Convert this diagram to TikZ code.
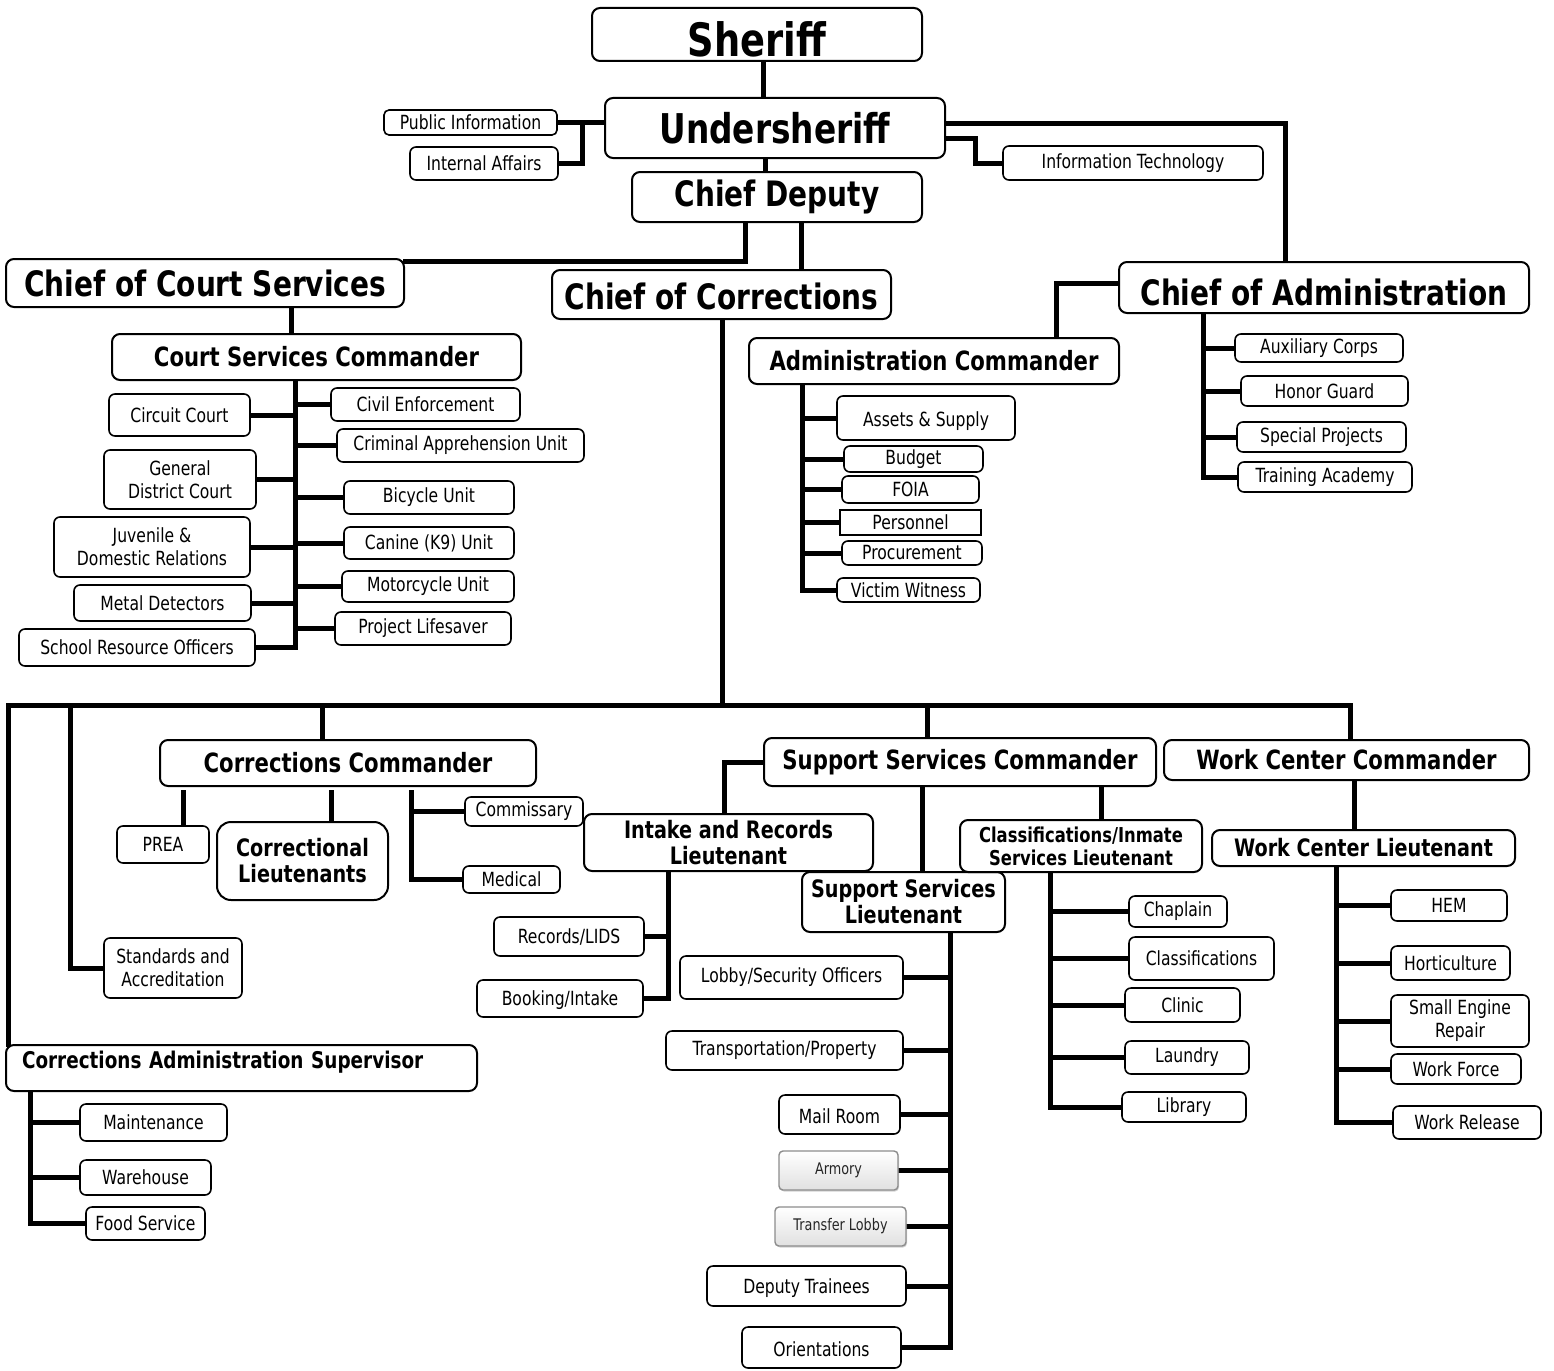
\documentclass[tikz,border=0pt]{standalone}
\usepackage{fontspec}
\setmainfont{DejaVu Sans}[FakeStretch=0.8]
\usetikzlibrary{shadows,backgrounds,calc}
\newcommand\bx[7]{\node[#6, minimum width={#4pt-#2pt}, minimum height={#5pt-#3pt}] (#1) at ({(#2+#4)/2},{(#3+#5)/2}) {#7};}
\tikzset{
 box/.style={draw, line width=1.6pt, rounded corners=6pt, fill=white, inner sep=1pt, align=center, font=\fontsize{19.5}{23}\selectfont},
 big/.style={box, line width=2pt, rounded corners=8pt, font=\bfseries\fontsize{35}{40}\selectfont},
 cmd/.style={box, line width=2pt, rounded corners=8pt, font=\bfseries\fontsize{26.5}{30}\selectfont},
 lt/.style={box, line width=2pt, rounded corners=8pt, font=\bfseries\fontsize{24}{26}\selectfont},
 btn/.style={box, draw=black!45, line width=1.4pt, rounded corners=4pt, top color=white, bottom color=black!12, drop shadow={opacity=0.35, shadow xshift=1pt, shadow yshift=-1.5pt}, font=\fontsize{16}{18}\selectfont, text=black!85},
 conn/.style={line width=5pt, line cap=rect},
}
\begin{document}
\begin{tikzpicture}[x=1pt,y=-1pt]
\useasboundingbox (0,0) rectangle (1554,1370);
% top
\bx{sher}{592}{8}{922}{61}{big, font=\bfseries\fontsize{46}{50}\selectfont, text height=44pt}{Sheriff}
\bx{under}{605}{98}{945}{158}{big, font=\bfseries\fontsize{41}{46}\selectfont}{Undersheriff}
\bx{pi}{384}{110}{557}{135}{box, rounded corners=5pt}{Public Information}
\bx{ia}{410}{147}{558}{180}{box}{Internal Affairs}
\bx{it}{1003}{146}{1263}{180}{box}{Information Technology}
\bx{cd}{632}{172}{922}{222}{big}{Chief Deputy}
\bx{ccs}{6}{259}{404}{307}{big}{Chief of Court Services}
\bx{coc}{552}{270}{891}{319}{big, text height=31pt}{Chief of Corrections}
\bx{coa}{1119}{262}{1529}{313}{big, text height=37pt}{Chief of Administration}
% court
\bx{csc}{112}{334}{521}{380}{cmd}{Court Services Commander}
\bx{circ}{109}{394}{250}{436}{box}{Circuit Court}
\bx{gdc}{104}{450}{256}{509}{box}{General\\District Court}
\bx{jdr}{54}{517}{250}{577}{box}{Juvenile \&\\Domestic Relations}
\bx{md}{74}{585}{251}{621}{box}{Metal Detectors}
\bx{sro}{19}{629}{255}{666}{box}{School Resource Officers}
\bx{civ}{331}{388}{520}{421}{box}{Civil Enforcement}
\bx{cau}{337}{429}{584}{462}{box}{Criminal Apprehension Unit}
\bx{bic}{344}{481}{514}{514}{box}{Bicycle Unit}
\bx{k9}{344}{527}{514}{559}{box}{Canine (K9) Unit}
\bx{moto}{342}{571}{514}{602}{box}{Motorcycle Unit}
\bx{pl}{335}{612}{511}{645}{box}{Project Lifesaver}
% administration
\bx{ac}{749}{338}{1119}{384}{cmd}{Administration Commander}
\bx{as}{837}{396}{1015}{440}{box, text height=22pt}{Assets \& Supply}
\bx{bud}{844}{446}{983}{472}{box}{Budget}
\bx{foia}{842}{476}{979}{503}{box}{FOIA}
\bx{pers}{840}{510}{981}{535}{box, rounded corners=0pt}{Personnel}
\bx{proc}{842}{541}{982}{565}{box}{Procurement}
\bx{vw}{837}{578}{980}{602}{box}{Victim Witness}
\bx{aux}{1235}{334}{1403}{362}{box}{Auxiliary Corps}
\bx{hg}{1241}{376}{1408}{406}{box}{Honor Guard}
\bx{spj}{1237}{422}{1406}{452}{box}{Special Projects}
\bx{ta}{1238}{462}{1412}{492}{box}{Training Academy}
% corrections
\bx{cc}{160}{740}{536}{786}{cmd}{Corrections Commander}
\bx{prea}{117}{826}{209}{863}{box}{PREA}
\bx{cl}{217}{822}{388}{900}{lt, rounded corners=14pt}{Correctional\\Lieutenants}
\bx{comm}{465}{797}{583}{826}{box}{Commissary}
\bx{med}{463}{866}{560}{893}{box}{Medical}
\bx{std}{104}{938}{242}{998}{box}{Standards and\\Accreditation}
\bx{casup}{6}{1045}{477}{1091}{cmd, font=\bfseries\fontsize{23}{26}\selectfont, align=left, inner xsep=16pt, text width=439pt, text depth=17pt}{Corrections Administration Supervisor}
\bx{mnt}{80}{1104}{227}{1141}{box}{Maintenance}
\bx{wh}{80}{1160}{211}{1195}{box}{Warehouse}
\bx{fs}{86}{1207}{205}{1240}{box}{Food Service}
\bx{ssc}{764}{738}{1156}{786}{cmd}{Support Services Commander}
\bx{irl}{584}{814}{873}{871}{lt}{Intake and Records\\Lieutenant}
\bx{rec}{494}{917}{644}{956}{box}{Records/LIDS}
\bx{bi}{477}{980}{643}{1017}{box, text height=19pt}{Booking/Intake}
\bx{ssl}{802}{872}{1005}{932}{lt}{Support Services\\Lieutenant}
\bx{lob}{680}{956}{903}{999}{box}{Lobby/Security Officers}
\bx{tp}{666}{1031}{903}{1070}{box}{Transportation/Property}
\bx{mail}{779}{1095}{900}{1134}{box, text height=19pt}{Mail Room}
\bx{arm}{779}{1151}{898}{1190}{btn}{Armory}
\bx{tl}{775}{1207}{906}{1246}{btn}{Transfer Lobby}
\bx{dt}{707}{1266}{906}{1306}{box, text height=19pt}{Deputy Trainees}
\bx{ori}{742}{1327}{901}{1368}{box, text height=19pt}{Orientations}
\bx{cis}{960}{820}{1202}{872}{lt, font=\bfseries\fontsize{20.5}{23}\selectfont}{Classifications/Inmate\\Services Lieutenant}
\bx{chap}{1129}{896}{1227}{927}{box}{Chaplain}
\bx{cls}{1129}{937}{1274}{980}{box}{Classifications}
\bx{clin}{1125}{988}{1240}{1022}{box}{Clinic}
\bx{laun}{1125}{1041}{1249}{1074}{box}{Laundry}
\bx{lib}{1122}{1092}{1246}{1122}{box}{Library}
\bx{wcc}{1164}{740}{1529}{780}{cmd}{Work Center Commander}
\bx{wcl}{1212}{830}{1515}{866}{lt}{Work Center Lieutenant}
\bx{hem}{1391}{890}{1507}{921}{box}{HEM}
\bx{hort}{1391}{946}{1510}{980}{box}{Horticulture}
\bx{ser}{1391}{995}{1529}{1047}{box}{Small Engine\\Repair}
\bx{wf}{1391}{1054}{1521}{1084}{box}{Work Force}
\bx{wr}{1393}{1106}{1541}{1139}{box}{Work Release}
\begin{pgfonlayer}{background}
\fill[white] (0,0) rectangle (1554,1370);
\draw[conn] (sher.south -| 763,0) -- (under.north -| 763,0);
\draw[conn] (under.south -| 765,0) -- (cd.north -| 765,0);
\draw[conn] (pi.east) -- (under.west |- pi.east);
\draw[conn] (pi.east -| 582,0) |- (ia.east);
\coordinate (itj) at (975,138);
\draw[conn] (under.east |- itj) -- (itj) |- (it.west);
\coordinate (coaj) at (1285,124);
\draw[conn] (under.east |- coaj) -| (coa.north -| coaj);
\draw[conn] (cd.south -| 745,0) |- ($(ccs.north east)+(0,3)$);
\draw[conn] (cd.south -| 801,0) -- (coc.north -| 801,0);
\draw[conn] (ccs.south -| 291,0) -- (csc.north -| 291,0);
\coordinate (aj) at (1056,283);
\draw[conn] (coa.west |- aj) -| (ac.north -| aj);
\coordinate (sA) at (1203,0);
\draw[conn] (coa.south -| sA) -- (ta.west -| sA);
\foreach \n in {aux,hg,spj,ta} \draw[conn] (\n.west -| sA) -- (\n.west);
\coordinate (sB) at (802,0);
\draw[conn] (ac.south -| sB) -- (vw.west -| sB);
\foreach \n in {as,bud,foia,pers,proc,vw} \draw[conn] (\n.west -| sB) -- (\n.west);
\coordinate (sC) at (295,0);
\draw[conn] (csc.south -| sC) -- (sro.east -| sC);
\foreach \n in {circ,gdc,jdr,md,sro} \draw[conn] (\n.east) -- (\n.east -| sC);
\foreach \n in {civ,cau,bic,k9,moto,pl} \draw[conn] (\n.west) -- (\n.west -| sC);
\coordinate (bus) at (0,705);
\draw[conn] (coc.south -| 722,0) -- (bus -| 722,0);
\draw[conn] (bus -| 8,0) -- (bus -| 1350,0);
\draw[conn] (bus -| 8,0) -- (casup.north -| 8,0);
\draw[conn] (bus -| 70,0) |- (std.west);
\draw[conn] (bus -| 322,0) -- (cc.north -| 322,0);
\draw[conn] (bus -| 927,0) -- (ssc.north -| 927,0);
\draw[conn] (bus -| 1350,0) -- (wcc.north -| 1350,0);
\coordinate (ccg) at (0,792);
\draw[conn] (ccg -| 183,0) -- (prea.north -| 183,0);
\draw[conn] (ccg -| 331,0) -- (cl.north -| 331,0);
\coordinate (sD) at (411,0);
\draw[conn] (ccg -| sD) |- (med.west);
\draw[conn] (comm.west) -- (comm.west -| sD);
\draw[conn] (ssc.west) -| (irl.north -| 724,0);
\coordinate (sE) at (668,0);
\draw[conn] (irl.south -| sE) |- (bi.east);
\draw[conn] (rec.east) -- (rec.east -| sE);
\draw[conn] (ssc.south -| 922,0) -- (ssl.north -| 922,0);
\coordinate (sF) at (950,0);
\draw[conn] (ssl.south -| sF) -- (ori.east -| sF);
\foreach \n in {lob,tp,mail,arm,tl,dt,ori} \draw[conn] (\n.east) -- (\n.east -| sF);
\draw[conn] (ssc.south -| 1101,0) -- (cis.north -| 1101,0);
\coordinate (sG) at (1050,0);
\draw[conn] (cis.south -| sG) -- (lib.west -| sG);
\foreach \n in {chap,cls,clin,laun,lib} \draw[conn] (\n.west) -- (\n.west -| sG);
\draw[conn] (wcc.south -| 1354,0) -- (wcl.north -| 1354,0);
\coordinate (sH) at (1336,0);
\draw[conn] (wcl.south -| sH) -- (wr.west -| sH);
\foreach \n in {hem,hort,ser,wf,wr} \draw[conn] (\n.west) -- (\n.west -| sH);
\coordinate (sI) at (30,0);
\draw[conn] (casup.south -| sI) -- (fs.west -| sI);
\foreach \n in {mnt,wh,fs} \draw[conn] (\n.west) -- (\n.west -| sI);
\end{pgfonlayer}
\end{tikzpicture}
\end{document}
